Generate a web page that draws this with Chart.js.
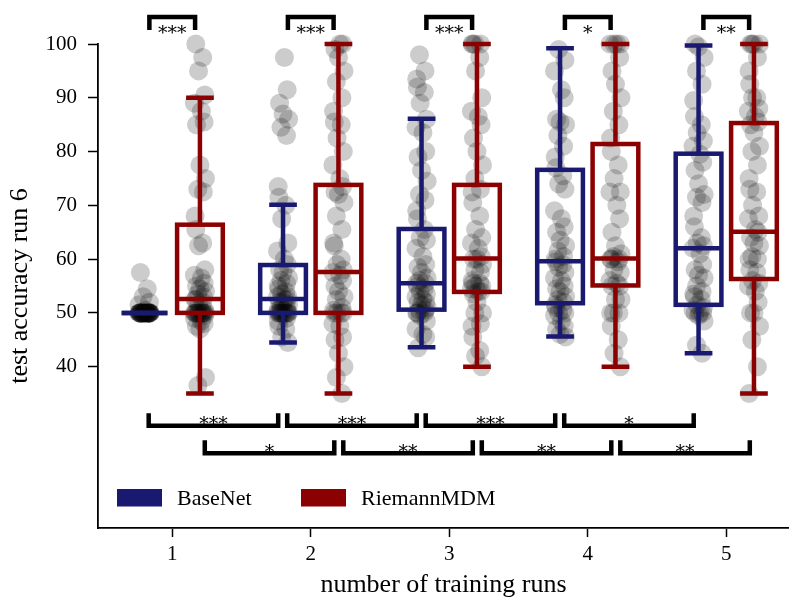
<!DOCTYPE html>
<html>
<head>
<meta charset="utf-8">
<script src="https://cdn.jsdelivr.net/npm/chart.js@4.4.0/dist/chart.umd.min.js"></script>
<style>
  html, body { margin: 0; padding: 0; background: #fff; }
</style>
</head>
<body>
<canvas id="chart" width="789" height="601"></canvas>
<script>
// x categories and y ticks
const runs = [1, 2, 3, 4, 5];
const yTicks = [40, 50, 60, 70, 80, 90, 100];

// raw test accuracies, one list per number of training runs
const baseNetScores = [
  [57.5, 54.5, 53, 52, 51.5, 50.5, 50, 50, 50, 50, 50, 50, 50, 50, 50, 50, 50, 50, 50, 50, 50, 50, 50, 50, 50, 50, 50, 50, 50, 50, 50, 50, 50, 50, 50, 50],
  [97.5, 91.5, 89, 87, 86, 84.5, 83, 73.5, 71.5, 70, 67.5, 63, 61.5, 60, 59, 58, 57.5, 56.5, 56, 55.5, 55, 54.5, 54, 53.5, 53, 53, 52.5, 52.5, 52, 52, 51.5, 51, 51, 50.5, 50, 50, 50, 50, 50, 50, 50, 50, 50, 50, 50, 49, 48.5, 47.5, 47, 45.5, 44.5],
  [98, 95, 93.5, 92, 91, 89, 86, 84.5, 83.5, 80, 79, 76.5, 74.5, 72, 71, 69, 67.5, 65.5, 64, 63.5, 62, 60.5, 59, 58.5, 57.5, 56.5, 56, 55.5, 55.5, 55, 54.5, 54, 53.5, 53, 52.5, 52, 52, 51.5, 51, 50.5, 50.5, 50, 50, 50, 49.5, 48.5, 47, 46, 45.5, 43.5],
  [99, 97, 95, 91.5, 90, 86, 85.5, 85, 83, 81, 79, 77, 75.5, 74, 73, 69, 67.5, 66, 65, 63.5, 62.5, 61.5, 60.5, 60, 59.5, 59, 58.5, 57.5, 56.5, 56, 55, 54.5, 54, 53, 52.5, 52, 51.5, 51, 50.5, 50, 50, 49.5, 48.5, 47.5, 47, 46, 45.5],
  [100, 99.5, 97.5, 95, 92.5, 89.5, 86.5, 85, 83.5, 82, 81, 79.5, 78, 76.5, 74, 72, 71.5, 70.5, 68, 66, 64, 63, 62.5, 62, 61, 59, 58, 57, 56.5, 55, 54, 53.5, 53, 52.5, 51.5, 51, 50.5, 50, 50, 50, 49.5, 48.5, 44, 42.5]
];
const riemannScores = [
  [100, 97.5, 95, 90.5, 89, 87.5, 85.5, 85, 77.5, 75, 73, 72.5, 68, 65.5, 63, 62.5, 58, 57, 56.5, 55.5, 55, 54.5, 54, 53.5, 53, 52.5, 52.5, 52, 51.5, 50.5, 50, 50, 50, 50, 50, 50, 50, 50, 50, 50, 50, 50, 49.5, 49, 48.5, 48, 47.5, 47, 38, 36.5],
  [100, 100, 99, 97.5, 95, 93, 90, 87.5, 85.5, 85, 82.5, 80, 77.5, 75, 73.5, 72.5, 72, 70.5, 68, 65.5, 63, 62.5, 60, 59, 58, 57.5, 57, 56, 55, 54, 53, 52.5, 51, 50.5, 50, 50, 50, 50, 48, 47.5, 45.5, 45, 42.5, 40, 38, 35],
  [100, 100, 100, 100, 97.5, 95, 90, 87.5, 86.5, 85, 82.5, 80, 77.5, 75, 73, 72.5, 70.5, 68, 65.5, 64, 63, 62, 60.5, 60, 60, 59, 58, 57.5, 56, 55.5, 55.5, 55, 55, 54.5, 54, 54, 53.5, 52, 50, 50, 48, 47.5, 45.5, 43, 42, 40],
  [100, 100, 100, 100, 97.5, 95, 92.5, 90, 87.5, 85, 82.5, 80, 77.5, 75, 72.5, 72.5, 70, 67.5, 65, 62.5, 61, 60.5, 60, 60, 60, 59.5, 58, 57.5, 56, 55.5, 55, 55, 52.5, 52.5, 50, 50, 50, 47.5, 45, 42.5, 40],
  [100, 100, 100, 100, 97.5, 95, 92.5, 90, 90, 88, 87.5, 86.5, 85.5, 85, 83.5, 81, 80, 77.5, 75, 73, 72.5, 70, 68, 67.5, 65.5, 65, 64, 63, 62.5, 60.5, 60, 60, 58, 57.5, 56, 55.5, 55, 54, 52, 50, 50, 47.5, 45, 40, 35]
];

// box statistics
const baseLow = [50, 44.5, 43.6, 45.6, 42.5];
const baseQ1 = [50, 50, 50.6, 51.8, 51.5];
const baseMedian = [50, 52.6, 55.5, 59.6, 62.0];
const baseQ3 = [50, 58.9, 65.6, 76.6, 79.6];
const baseHigh = [50, 70.1, 86.1, 99.2, 99.7];

const riemLow = [35, 35, 40, 40, 35];
const riemQ1 = [50, 50, 53.9, 55.1, 56.3];
const riemMedian = [52.6, 57.6, 60.1, 60.1, 65.1];
const riemQ3 = [66.4, 73.8, 73.8, 81.4, 85.3];
const riemHigh = [90, 100, 100, 100, 100];

// significance labels
const pairStars = ['***', '***', '***', '*', '**'];       // BaseNet vs RiemannMDM per run
const baseStepStars = ['***', '***', '***', '*'];        // BaseNet run n vs n+1
const riemStepStars = ['*', '**', '**', '**'];           // RiemannMDM run n vs n+1

const BASE_COLOR = '#191970';
const RIEM_COLOR = '#8b0000';
const FONT = '"Liberation Serif", "Times New Roman", serif';
const STAR_FONT = '19px "DejaVu Serif", serif';
const OFFSET = 0.2;
const BOX_W = 0.33;
const CAP_W = 0.2;
const LINE_W = 4.5;
const JITTER = [-0.03, 0.02, -0.01, 0.035, -0.04, 0.01, 0.03, -0.025, 0, 0.04, -0.015, 0.025, -0.035];

function stripPoints(scores, shift) {
  const pts = [];
  scores.forEach((list, g) => {
    list.forEach((v, i) => {
      pts.push({ x: runs[g] + shift + JITTER[(i + g * 5) % JITTER.length], y: v });
    });
  });
  return pts;
}

function drawBox(ctx, x, y, center, low, q1, med, q3, high, color) {
  const left = x.getPixelForValue(center - BOX_W / 2);
  const right = x.getPixelForValue(center + BOX_W / 2);
  const mid = x.getPixelForValue(center);
  const capL = x.getPixelForValue(center - CAP_W / 2);
  const capR = x.getPixelForValue(center + CAP_W / 2);
  ctx.strokeStyle = color;
  ctx.lineWidth = LINE_W;
  ctx.lineCap = 'butt';
  ctx.lineJoin = 'miter';
  // whiskers
  ctx.beginPath();
  ctx.moveTo(mid, y.getPixelForValue(q3));
  ctx.lineTo(mid, y.getPixelForValue(high));
  ctx.moveTo(mid, y.getPixelForValue(q1));
  ctx.lineTo(mid, y.getPixelForValue(low));
  ctx.moveTo(capL, y.getPixelForValue(high));
  ctx.lineTo(capR, y.getPixelForValue(high));
  ctx.moveTo(capL, y.getPixelForValue(low));
  ctx.lineTo(capR, y.getPixelForValue(low));
  ctx.stroke();
  // box + median
  const top = y.getPixelForValue(q3);
  const bottom = y.getPixelForValue(q1);
  ctx.strokeRect(left, top, right - left, bottom - top);
  ctx.beginPath();
  ctx.moveTo(left, y.getPixelForValue(med));
  ctx.lineTo(right, y.getPixelForValue(med));
  ctx.stroke();
}

function drawBracket(ctx, x, y, x0, x1, barVal, legVal, label, textDy) {
  const px0 = x.getPixelForValue(x0);
  const px1 = x.getPixelForValue(x1);
  const bar = y.getPixelForValue(barVal);
  const leg = y.getPixelForValue(legVal);
  ctx.strokeStyle = '#000';
  ctx.lineWidth = LINE_W;
  ctx.lineJoin = 'miter';
  ctx.beginPath();
  ctx.moveTo(px0, leg);
  ctx.lineTo(px0, bar);
  ctx.lineTo(px1, bar);
  ctx.lineTo(px1, leg);
  ctx.stroke();
  ctx.fillStyle = '#000';
  ctx.font = STAR_FONT;
  ctx.textAlign = 'center';
  ctx.textBaseline = 'alphabetic';
  ctx.fillText(label, (px0 + px1) / 2, bar + textDy);
}

const boxPlugin = {
  id: 'boxes',
  afterDatasetsDraw(chart) {
    const { ctx, scales: { x, y } } = chart;
    ctx.save();
    runs.forEach((r, g) => {
      drawBox(ctx, x, y, r - OFFSET, baseLow[g], baseQ1[g], baseMedian[g], baseQ3[g], baseHigh[g], BASE_COLOR);
      drawBox(ctx, x, y, r + OFFSET, riemLow[g], riemQ1[g], riemMedian[g], riemQ3[g], riemHigh[g], RIEM_COLOR);
    });
    ctx.restore();
  }
};

const significancePlugin = {
  id: 'significance',
  afterDraw(chart) {
    const { ctx, scales: { x, y } } = chart;
    ctx.save();
    runs.forEach((r, g) => {
      drawBracket(ctx, x, y, r - 0.165, r + 0.165, 105.0, 102.6, pairStars[g], 21.5);
    });
    baseStepStars.forEach((s, g) => {
      drawBracket(ctx, x, y, runs[g] - 0.17, runs[g + 1] - 0.235, 29.0, 31.35, s, 4.3);
    });
    riemStepStars.forEach((s, g) => {
      drawBracket(ctx, x, y, runs[g] + 0.235, runs[g + 1] + 0.17, 23.9, 26.3, s, 5.0);
    });
    ctx.restore();
  }
};

const legendPlugin = {
  id: 'boxLegend',
  afterDraw(chart) {
    const { ctx, chartArea } = chart;
    const items = [['BaseNet', BASE_COLOR, 19], ['RiemannMDM', RIEM_COLOR, 203]];
    ctx.save();
    ctx.font = '22px ' + FONT;
    ctx.textAlign = 'left';
    ctx.textBaseline = 'alphabetic';
    items.forEach(([label, color, dx]) => {
      const lx = chartArea.left + dx;
      ctx.fillStyle = color;
      ctx.fillRect(lx, chartArea.bottom - 39, 45, 17.5);
      ctx.fillStyle = '#000';
      ctx.fillText(label, lx + 60, chartArea.bottom - 23);
    });
    ctx.restore();
  }
};

new Chart(document.getElementById('chart'), {
  type: 'scatter',
  data: {
    datasets: [
      {
        label: 'BaseNet',
        data: stripPoints(baseNetScores, -OFFSET),
        pointRadius: 9.5,
        pointHoverRadius: 9.5,
        pointBackgroundColor: 'rgba(0,0,0,0.2)',
        pointBorderWidth: 0,
        clip: false
      },
      {
        label: 'RiemannMDM',
        data: stripPoints(riemannScores, OFFSET),
        pointRadius: 9.5,
        pointHoverRadius: 9.5,
        pointBackgroundColor: 'rgba(0,0,0,0.2)',
        pointBorderWidth: 0,
        clip: false
      }
    ]
  },
  options: {
    responsive: false,
    animation: false,
    events: [],
    layout: { autoPadding: false, padding: { top: 44, left: 0, right: 0, bottom: 0 } },
    plugins: { legend: { display: false }, tooltip: { enabled: false } },
    scales: {
      x: {
        type: 'linear',
        min: 0.464,
        max: 5.453,
        afterBuildTicks: (s) => { s.ticks = runs.map(v => ({ value: v })); },
        afterFit: (s) => { s.height = 73; s.paddingLeft = 0; s.paddingRight = 0; },
        grid: { display: true, drawOnChartArea: false, drawTicks: true, tickLength: 9, tickWidth: 1.5, tickColor: '#000' },
        border: { display: true, color: '#000', width: 1.8 },
        ticks: { color: '#000', font: { family: FONT, size: 21 }, padding: 5 },
        title: { display: true, text: 'number of training runs', color: '#000', font: { family: FONT, size: 26 }, padding: { top: 0, bottom: 0 } }
      },
      y: {
        type: 'linear',
        min: 10,
        max: 100,
        afterBuildTicks: (s) => { s.ticks = yTicks.map(v => ({ value: v })); },
        afterFit: (s) => { s.width = 98; },
        grid: { display: true, drawOnChartArea: false, drawTicks: true, tickLength: 10, tickWidth: 1.5, tickColor: '#000' },
        border: { display: true, color: '#000', width: 1.8 },
        ticks: { color: '#000', font: { family: FONT, size: 21 }, padding: 11 },
        title: { display: true, text: 'test accuracy run 6', color: '#000', font: { family: FONT, size: 26 }, padding: { top: 5, bottom: 0 } }
      }
    }
  },
  plugins: [boxPlugin, significancePlugin, legendPlugin]
});
</script>
</body>
</html>
